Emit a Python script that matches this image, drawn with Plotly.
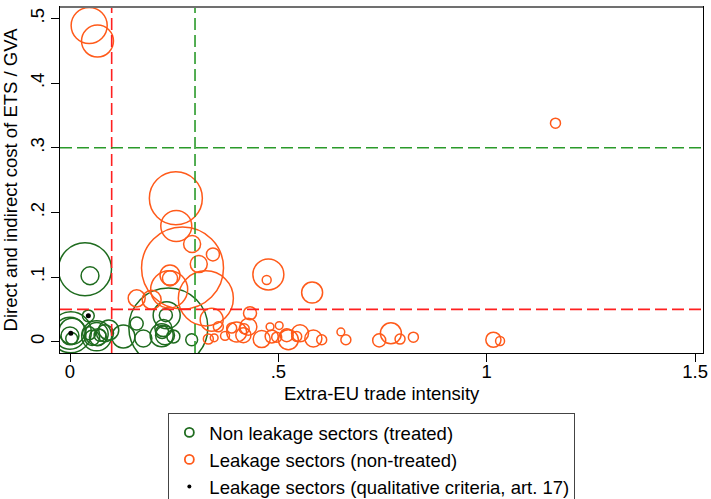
import plotly.graph_objects as go

# Sectors exposed to carbon leakage: extra-EU trade intensity vs. cost of ETS / GVA.
# Bubble area follows each sector's weight.

# Non leakage sectors (treated)
green_x = [0.036, 0.048, 0.236, 0.002, 0.000, 0.005, 0.004, 0.000, 0.044, 0.064,
           0.064, 0.067, 0.072, 0.046, 0.084, 0.053, 0.128, 0.160, 0.176, 0.220,
           0.232, 0.230, 0.224, 0.221, 0.228, 0.248, 0.292, 0.093]
green_y = [0.112, 0.102, 0.022, 0.0145, 0.013, 0.016, 0.005, 0.009, 0.040, 0.009,
           0.012, 0.007, 0.010, 0.013, 0.013, 0.006, 0.008, 0.028, 0.005, 0.010,
           0.041, 0.041, 0.021, 0.015, 0.010, 0.008, 0.003, 0.018]
green_w = [28.1, 3.2, 62.4, 16.8, 10.2, 6.8, 1.4, 3.2, 1.4, 9.0,
           5.3, 2.9, 1.4, 1.7, 2.9, 2.3, 5.3, 1.7, 2.9, 5.3,
           7.3, 1.7, 2.9, 1.7, 3.6, 1.7, 1.4, 4.0]

# Leakage sectors (non-treated)
orange_x = [0.046, 0.066, 1.165, 0.254, 0.255, 0.293, 0.343, 0.309, 0.270, 0.240,
            0.240, 0.238, 0.160, 0.196, 0.326, 0.476, 0.472, 0.581, 0.432, 0.340,
            0.356, 0.332, 0.346, 0.372, 0.400, 0.416, 0.418, 0.428, 0.460, 0.480,
            0.484, 0.502, 0.496, 0.524, 0.520, 0.552, 0.544, 0.584, 0.604, 0.650,
            0.662, 0.742, 0.770, 0.792, 0.824, 1.016, 1.032, 0.388]
orange_y = [0.489, 0.465, 0.338, 0.222, 0.179, 0.151, 0.135, 0.120, 0.114, 0.103,
            0.098, 0.081, 0.067, 0.065, 0.067, 0.104, 0.0955, 0.076, 0.044, 0.034,
            0.023, 0.004, 0.006, 0.009, 0.015, 0.010, 0.020, 0.023, 0.004, 0.023,
            0.008, 0.025, 0.007, 0.003, 0.010, 0.013, 0.008, 0.005, 0.003, 0.015,
            0.003, 0.002, 0.013, 0.004, 0.007, 0.003, 0.001, 0.021]
orange_w = [13.0, 10.2, 1.0, 28.1, 9.6, 2.9, 1.7, 2.9, 67.2, 4.0,
            2.3, 13.7, 2.9, 3.6, 30.3, 9.6, 0.8, 4.4, 1.7, 5.3,
            1.0, 1.0, 0.6, 0.8, 4.0, 2.3, 1.0, 2.9, 2.9, 0.6,
            1.7, 0.6, 1.0, 4.0, 1.7, 2.9, 1.0, 2.9, 1.0, 0.6,
            1.0, 1.7, 4.4, 1.0, 1.0, 2.3, 0.8, 1.0]

# Leakage sectors (qualitative criteria, art. 17)
qual_x = [0.002, 0.044]
qual_y = [0.013, 0.040]

# Threshold lines
trade_thresholds = [0.1, 0.3]
cost_thresholds = [0.05, 0.3]

x_ticks = [0, 0.5, 1, 1.5]
x_ticklabels = ["0", ".5", "1", "1.5"]
y_ticks = [0, 0.1, 0.2, 0.3, 0.4, 0.5]
y_ticklabels = ["0", ".1", ".2", ".3", ".4", ".5"]

series_names = ["Non leakage sectors (treated)",
                "Leakage sectors (non-treated)",
                "Leakage sectors (qualitative criteria, art. 17)"]

GREEN = "#1e6b1e"
ORANGE = "#ff5a1a"
RED_LINE = "#ff2020"
GREEN_LINE = "#2a9a2a"
FONT = "Liberation Sans, Arial, sans-serif"
FS = 18.5
SIZEREF = 0.02  # diameter = 10 * sqrt(weight)

fig = go.Figure()

fig.add_trace(go.Scatter(
    x=green_x, y=green_y, mode="markers", showlegend=False,
    marker=dict(size=green_w, sizemode="area", sizeref=SIZEREF, symbol="circle-open",
                opacity=1, color=GREEN, line=dict(width=1.5, color=GREEN)),
))
fig.add_trace(go.Scatter(
    x=orange_x, y=orange_y, mode="markers", showlegend=False,
    marker=dict(size=orange_w, sizemode="area", sizeref=SIZEREF, symbol="circle-open",
                opacity=1, color=ORANGE, line=dict(width=1.5, color=ORANGE)),
))
fig.add_trace(go.Scatter(
    x=qual_x, y=qual_y, mode="markers", showlegend=False,
    marker=dict(size=5, symbol="circle", color="black", opacity=1),
))

# Legend keys with small fixed-size symbols
legend_styles = [
    dict(size=9, symbol="circle-open", color=GREEN, line=dict(width=1.8, color=GREEN)),
    dict(size=9, symbol="circle-open", color=ORANGE, line=dict(width=1.8, color=ORANGE)),
    dict(size=4, symbol="circle", color="black"),
]
for name, style in zip(series_names, legend_styles):
    fig.add_trace(go.Scatter(x=[None], y=[None], mode="markers", name=name,
                             marker=style, showlegend=True))

# Dashed threshold lines
dash = "12px,5px"
fig.add_vline(x=trade_thresholds[0], line=dict(color=RED_LINE, width=1.6, dash=dash))
fig.add_vline(x=trade_thresholds[1], line=dict(color=GREEN_LINE, width=1.6, dash=dash))
fig.add_hline(y=cost_thresholds[0], line=dict(color=RED_LINE, width=1.6, dash=dash))
fig.add_hline(y=cost_thresholds[1], line=dict(color=GREEN_LINE, width=1.6, dash=dash))

# Grey top edge of the plot frame
fig.add_shape(type="line", xref="paper", yref="paper", x0=0, x1=1, y0=1, y1=1,
              line=dict(color="#707070", width=2))

# x-axis title
fig.add_annotation(text="Extra-EU trade intensity", xref="paper", yref="paper",
                   x=0.5, y=-0.118, xanchor="center", yanchor="middle",
                   showarrow=False, font=dict(family=FONT, size=FS, color="black"))

fig.update_layout(
    width=711, height=499,
    margin=dict(l=60, r=8, t=7, b=146, autoexpand=False),
    paper_bgcolor="white", plot_bgcolor="white",
    font=dict(family=FONT, size=FS, color="black"),
    showlegend=True,
    legend=dict(
        x=0.485, y=-0.173, xanchor="center", yanchor="top",
        bordercolor="#444", borderwidth=1, bgcolor="white",
        itemsizing="trace", itemwidth=30, font=dict(family=FONT, size=FS),
        tracegroupgap=0,
    ),
    xaxis=dict(
        range=[-0.024, 1.519], tickvals=x_ticks, ticktext=x_ticklabels,
        ticks="outside", ticklen=8, tickcolor="black", ticklabelstandoff=-6,
        tickfont=dict(family=FONT, size=FS),
        showgrid=False, zeroline=False,
        showline=True, linecolor="black", linewidth=1, mirror=True,
    ),
    yaxis=dict(
        range=[-0.0175, 0.5177], tickvals=y_ticks, ticktext=y_ticklabels,
        ticks="outside", ticklen=8, tickcolor="black", tickangle=-90,
        tickfont=dict(family=FONT, size=FS),
        showgrid=False, zeroline=False,
        showline=True, linecolor="black", linewidth=1, mirror=True,
        title=dict(text="Direct and indirect cost of ETS / GVA", standoff=6,
                   font=dict(family=FONT, size=FS)),
    ),
)

fig.write_html("out.html")
